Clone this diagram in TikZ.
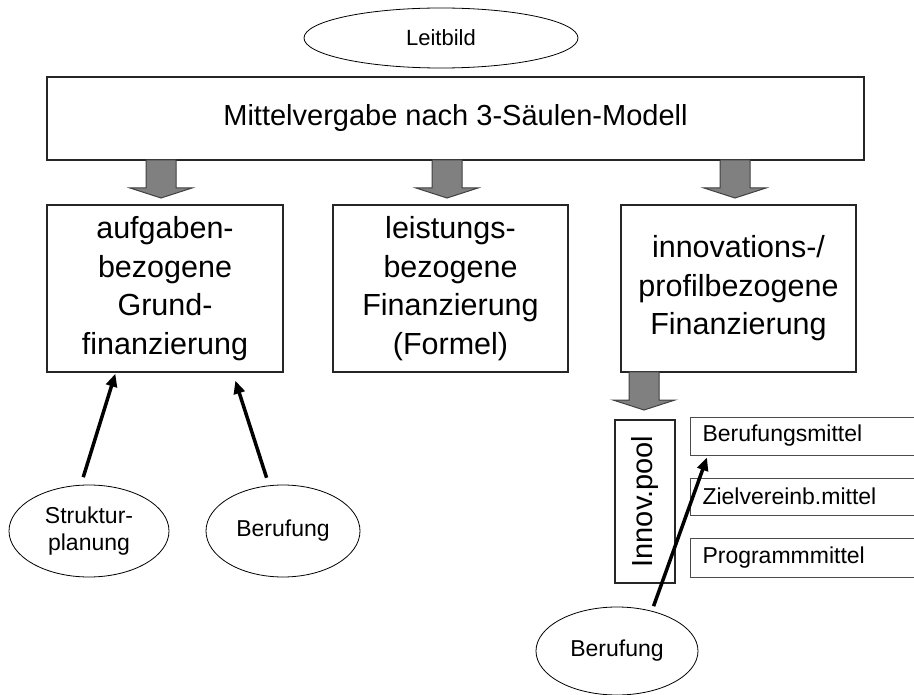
\documentclass[tikz,border=0pt]{standalone}
\usepackage{fontspec}
\setmainfont{Liberation Sans}
\usetikzlibrary{shapes.geometric,arrows.meta,calc}

% grey block arrow pointing down: #1 = top centre of the shaft, #2 = tip
\newcommand\blockdown[2]{%
  \draw[blockarrow] ($(#1)+(-15,0)$) -- ($(#2)+(-15,-10)$) -- ($(#2)+(-31,-10)$)
    -- (#2) -- ($(#2)+(31,-10)$) -- ($(#2)+(15,-10)$) -- ($(#1)+(15,0)$) -- cycle;}

\begin{document}
\begin{tikzpicture}[x=1pt,y=-1pt,
  box/.style={draw=black!85, line width=1.3pt, fill=white, inner sep=0pt,
    align=center, font=\fontsize{30.5}{38.5}\selectfont},
  smallbox/.style={draw=black!70, line width=1pt, fill=white, anchor=west,
    minimum width=240, text width=216, inner xsep=12pt, inner ysep=0pt,
    align=left, font=\fontsize{23}{27}\selectfont},
  oval/.style={ellipse, draw=black, line width=0.8pt, inner sep=0pt,
    align=center, font=\fontsize{23}{27}\selectfont},
  pointer/.style={line width=3.5pt, -{Triangle[length=13pt,width=11pt]}},
  blockarrow/.style={fill=black!50, draw=black!75, line width=1pt, line join=miter}]

\clip (0,0) rectangle (914,695);
\useasboundingbox (0,0) rectangle (914,695);

% top level
\node[oval, minimum width=274, minimum height=60, font=\fontsize{22}{26}\selectfont]
  (leit) at (441,38) {Leitbild};
\node[box, minimum width=817, minimum height=83, font=\fontsize{29}{34}\selectfont]
  (main) at (455.5,118.5) {Mittelvergabe nach 3-Säulen-Modell};

% the three pillars
\node[box, minimum width=236, minimum height=167] (col1) at (165,288.5)
  {aufgaben-\\bezogene\\Grund-\\finanzierung};
\node[box, minimum width=235, minimum height=167] (col2) at (450.5,288.5)
  {leistungs-\\bezogene\\Finanzierung\\(Formel)};
\node[box, minimum width=235, minimum height=167] (col3) at (738.5,288.5)
  {innovations-/\\profilbezogene\\Finanzierung};

% grey arrows from the model to the pillars
\coordinate (g1a) at (161,160); \coordinate (g1b) at (161,198);
\coordinate (g2a) at (447,160); \coordinate (g2b) at (447,198);
\coordinate (g3a) at (735,160); \coordinate (g3b) at (735,198);
\coordinate (g4a) at (644,372); \coordinate (g4b) at (644,410);
\blockdown{g1a}{g1b}
\blockdown{g2a}{g2b}
\blockdown{g3a}{g3b}
\blockdown{g4a}{g4b}

% innovation pool and its parts
\node[box, rotate=90, minimum width=163, minimum height=60,
  font=\fontsize{29}{32}\selectfont] (pool) at (645,501.5) {Innov.pool};
\node[smallbox, minimum height=38] (bm1) at (690,436) {Berufungsmittel};
\node[smallbox, minimum height=37] (bm2) at (690,496.5) {Zielvereinb.mittel};
\node[smallbox, minimum height=39] (bm3) at (690,557.5) {Programmmittel};

% influences
\node[oval, minimum width=160, minimum height=92] (struk) at (89,531) {Struktur-\\planung};
\node[oval, minimum width=154, minimum height=92] (beruf1) at (283,531) {Berufung};
\node[oval, minimum width=162, minimum height=88] (beruf2) at (617,651) {Berufung};

\coordinate (t1) at ($(col1.south west)+(69,1)$);
\coordinate (t2) at ($(col1.south west)+(189,8)$);
\coordinate (t3) at ($(bm1.south west)+(17,2)$);
\draw[pointer, shorten <=8pt] (struk.100) -- (t1);
\draw[pointer, shorten <=8pt] (beruf1.107) -- (t2);
\draw[pointer, shorten <=5pt] (beruf2.49) -- (t3);

\end{tikzpicture}
\end{document}
